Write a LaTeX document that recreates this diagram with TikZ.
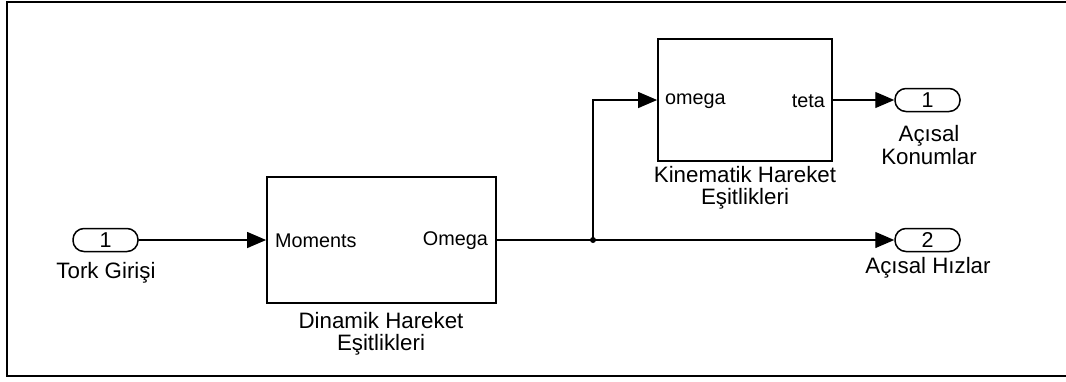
\documentclass[tikz,border=0pt]{standalone}
\usepackage{fontspec}
\setmainfont{Liberation Sans}
\usetikzlibrary{arrows.meta}
\begin{document}
\begin{tikzpicture}[x=1pt,y=-1pt,
  block/.style={draw, line width=1.8pt, inner sep=0pt},
  port/.style={draw, line width=1.5pt, rounded corners=11pt, minimum width=65pt,
    minimum height=23pt, inner sep=0pt, font=\fontsize{21.5}{22}\selectfont},
  sig/.style={line width=1.3pt},
  sigarrow/.style={sig, -{Triangle[length=19pt,width=16pt]}},
  lbl/.style={font=\fontsize{22.3}{22.5}\selectfont, align=center, inner sep=0pt},
  plab/.style={font=\fontsize{19.8}{20}\selectfont, inner sep=0pt}
]
% page and outer frame
\path[use as bounding box] (0,0) rectangle (1066,381);
\draw[line width=2pt] (7,2) rectangle (1075,375.5);

% blocks
\node[block, minimum width=229pt, minimum height=126pt] (dyn) at (381.5,240) {};
\node[block, minimum width=174pt, minimum height=122pt] (kin) at (745,100) {};

% port names inside the blocks
\node[plab, anchor=west] (dynin) at (275,241) {Moments};
\node[plab, anchor=east] (dynout) at (488,241) {Omega};
\node[plab, anchor=west] (kinin) at (665,101) {omega};
\node[plab, anchor=east] (kinout) at (825,101) {teta};

% block captions
\node[lbl] (dynlbl) at (381,334) {Dinamik Hareket\\Eşitlikleri};
\node[lbl] (kinlbl) at (745,188) {Kinematik Hareket\\Eşitlikleri};

% input and output ports
\node[port] (in1) at (105.5,240) {1};
\node[port] (out1) at (927.5,100) {1};
\node[port] (out2) at (927.5,240) {2};

\node[lbl] (in1lbl) at (106,273) {Tork Girişi};
\node[lbl] (out1lbl) at (929,145) {Açısal\\Konumlar};
\node[lbl] (out2lbl) at (928,268) {Açısal Hızlar};

% signal lines
\coordinate (j) at (593,240);
\draw[sigarrow] (in1.east) -- (dyn.west);
\draw[sig] (dyn.east) -- (j);
\draw[sigarrow] (j) -- (out2.west);
\draw[sigarrow] (j) |- (kin.west);
\draw[sigarrow] (kin.east) -- (out1.west);
\fill (j) circle (3pt);
\end{tikzpicture}
\end{document}
